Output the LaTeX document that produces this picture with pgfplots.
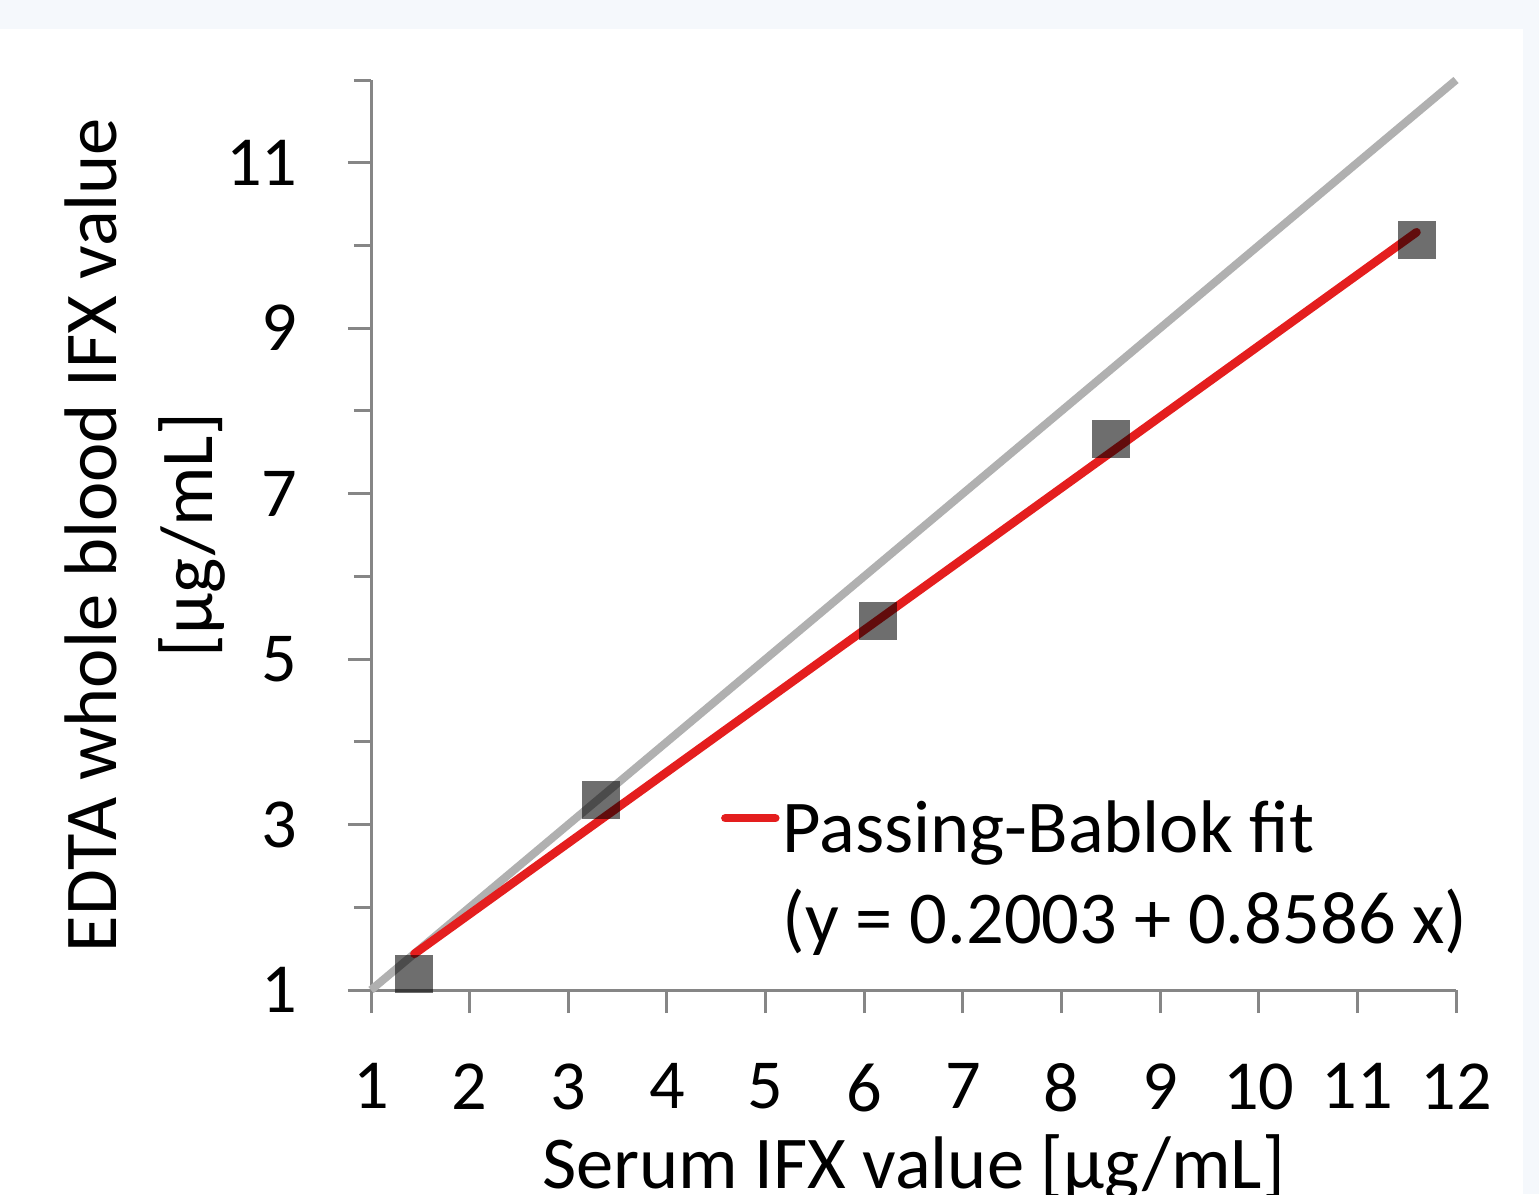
\documentclass[border=0pt]{standalone}
\usepackage{fontspec}
\setmainfont{Carlito}
\usepackage{pgfplots}
\pgfplotsset{compat=1.18}
\definecolor{bgblue}{RGB}{245,248,252}
\definecolor{axisgray}{RGB}{134,134,134}
\definecolor{idgray}{RGB}{176,176,176}
\definecolor{fitred}{RGB}{228,30,30}
\begin{document}
\begin{tikzpicture}
\useasboundingbox (0,0) rectangle (153.9mm,119.4mm);
\clip (0,0) rectangle (153.9mm,119.4mm);
\fill[bgblue] (0,0) rectangle (153.9mm,119.4mm);
\fill[white] (0,0) rectangle (152.3mm,116.5mm);
\begin{axis}[
  at={(37.1mm,20.4mm)}, anchor=south west,
  width=108.5mm, height=91mm, scale only axis,
  xmin=1, xmax=12, ymin=1, ymax=12, clip=false,
  axis lines*=left, axis line style={axisgray, line width=0.3mm},
  xtick={1,...,12}, ytick={1,3,...,11}, minor ytick={2,4,...,12},
  tick align=outside, major tick length=2.3mm, minor tick length=1.7mm,
  every tick/.style={axisgray, line width=0.3mm},
  /pgf/number format/assume math mode=true,
  tick label style={font=\fontsize{20}{24}\selectfont, inner sep=0pt},
  xticklabel style={anchor=north, yshift=-5.0mm},
  yticklabel style={anchor=east, xshift=-5.0mm},
  xlabel={Serum IFX value [µg/mL]},
  ylabel={EDTA whole blood IFX value\\{}[µg/mL]},
  xlabel style={at={(rel axis cs:0.5,-0.2176)}, anchor=base, font=\fontsize{21.2}{25}\selectfont, inner sep=0pt},
  ylabel style={at={(rel axis cs:-0.2083,0.5)}, anchor=center, align=center, font=\fontsize{21.2}{27.5}\selectfont},
  legend style={draw=none, fill=none, at={(rel axis cs:0.322,0.2085)}, anchor=north west,
    inner sep=0pt, row sep=3.1mm, column sep=0.3mm, font=\fontsize{21.2}{25}\selectfont,
    nodes={inner sep=0pt}},
  legend cell align=left,
  legend image code/.code={\draw[#1, line cap=round] (0.4mm,0.32em) -- (5.4mm,0.32em);},
]
% line of identity
\addplot[idgray, line width=0.8mm, forget plot] coordinates {(1,1) (12,12)};
% Passing-Bablok fit, y = 0.2003 + 0.8586 x
\addplot[fitred, line width=0.85mm, line cap=round] coordinates {(1.44,1.437) (11.60,10.160)};
\addlegendentry{Passing-Bablok fit}
\addlegendimage{empty legend}
\addlegendentry{(y = 0.2003 + 0.8586 x)}
% measurements
\addplot[only marks, mark=square*, mark size=1.9mm, forget plot,
  mark options={fill=black, fill opacity=0.57, draw opacity=0}]
  coordinates {(1.44,1.19) (3.33,3.30) (6.14,5.46) (8.50,7.66) (11.60,10.07)};
\end{axis}
\end{tikzpicture}
\end{document}
